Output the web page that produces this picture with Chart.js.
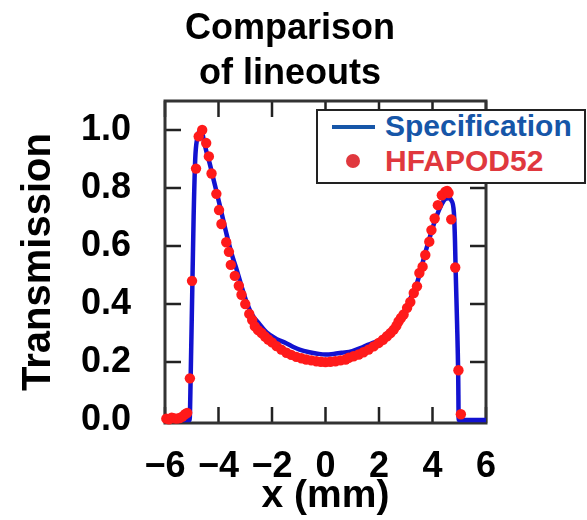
<!DOCTYPE html>
<html>
<head>
<meta charset="utf-8">
<script src="https://cdn.jsdelivr.net/npm/chart.js@4.4.1/dist/chart.umd.min.js"></script>
<style>
  html, body { margin: 0; padding: 0; background: #ffffff; overflow: hidden; }
  #wrap { position: relative; width: 587px; height: 520px; }
  #chart { position: absolute; left: 0; top: 0; }
  #legend {
    position: absolute; left: 316px; top: 109px; width: 266px; height: 71px;
    border: 2px solid #222222; background: #ffffff;
    font-family: "Liberation Sans", Arial, Helvetica, sans-serif; font-weight: bold; font-size: 30px;
  }
  .lg-row { position: absolute; left: 0; height: 34px; line-height: 34px; white-space: nowrap; }
  .lg-text { position: absolute; left: 67px; top: 0; }
  .lg-line { position: absolute; left: 14px; top: 16px; width: 43px; height: 4px; }
  .lg-dot { position: absolute; left: 28px; top: 10px; width: 14px; height: 14px; border-radius: 50%; }
</style>
</head>
<body>
<div id="wrap">
  <canvas id="chart" width="587" height="520"></canvas>
  <div id="legend"></div>
</div>
<script>
// ================================================================
//  DATA
// ================================================================
const titleLines = ['Comparison', 'of lineouts'];
const xTitle = 'x (mm)';
const yTitle = 'Transmission';
const xTicks = [-6, -4, -2, 0, 2, 4, 6];
const yTicks = [0, 0.2, 0.4, 0.6, 0.8, 1.0];

// Specification (solid blue line)
const specX = [-6, -5.08, -5.04, -4.98, -4.93, -4.87, -4.8, -4.72, -4.64, -4.55, -4.45, -4.33, -4.2, -4.08,
  -3.9, -3.71, -3.5, -3.34, -3.15, -2.96, -2.75, -2.46, -2.2, -1.84, -1.47, -1.2, -0.97, -0.6, -0.3,
  0, 0.3, 0.6, 1.0, 1.4, 1.73, 2.0, 2.36, 2.62, 3.0, 3.2, 3.42, 3.74, 4.12, 4.35, 4.49, 4.6, 4.7,
  4.8, 4.84, 4.87, 4.92, 4.96, 4.98, 6];
const specY = [0, 0, 0.15, 0.45, 0.7, 0.9, 0.97, 0.995, 1.0, 0.965, 0.925, 0.885, 0.835, 0.79,
  0.72, 0.645, 0.57, 0.525, 0.465, 0.41, 0.365, 0.33, 0.302, 0.28, 0.265, 0.252, 0.243, 0.234, 0.229,
  0.226, 0.228, 0.232, 0.238, 0.252, 0.265, 0.275, 0.305, 0.325, 0.385, 0.425, 0.472, 0.58, 0.695, 0.745, 0.763, 0.765, 0.758,
  0.715, 0.62, 0.5, 0.33, 0.16, 0, 0];

// HFAPOD52 (red dots)
const measX = [-5.95, -5.85, -5.75, -5.65, -5.55, -5.45, -5.35, -5.25, -5.17,
  -5.07, -4.99, -4.84, -4.74, -4.61, -4.46, -4.36, -4.26, -4.08, -3.98, -3.89, -3.71, -3.61, -3.54,
  -3.39, -3.24, -3.14, -3.0, -2.85, -2.74, -2.64, -2.52, -2.39, -2.26, -2.14, -2.0, -1.83, -1.65,
  -1.46, -1.28, -1.09, -0.9, -0.72, -0.53, -0.34, -0.17, 0.0, 0.18, 0.37, 0.56, 0.75, 0.87, 1.05,
  1.24, 1.42, 1.61, 1.8, 1.99, 2.15, 2.3, 2.43, 2.55, 2.65, 2.73, 2.82, 2.92, 3.05, 3.17, 3.3, 3.42,
  3.51, 3.63, 3.73, 3.88, 3.96, 4.08, 4.2, 4.35, 4.48, 4.55, 4.6, 4.7, 4.85, 4.97, 5.06];
const measY = [0.005, 0.003, 0.008, 0.006, 0.005, 0.007, 0.012, 0.02, 0.025,
  0.144, 0.48, 0.867, 0.978, 1.0, 0.955, 0.909, 0.85, 0.78, 0.724, 0.676, 0.613, 0.58, 0.535,
  0.497, 0.463, 0.432, 0.4, 0.366, 0.345, 0.323, 0.31, 0.3, 0.288, 0.278, 0.268, 0.255, 0.243,
  0.232, 0.225, 0.218, 0.213, 0.209, 0.206, 0.203, 0.201, 0.2, 0.201, 0.203, 0.206, 0.209, 0.215, 0.22,
  0.226, 0.234, 0.243, 0.254, 0.266, 0.277, 0.289, 0.3, 0.312, 0.325, 0.34, 0.352, 0.364, 0.387, 0.407, 0.438, 0.461,
  0.507, 0.529, 0.569, 0.615, 0.655, 0.695, 0.741, 0.775, 0.787, 0.79, 0.783, 0.692, 0.526, 0.172, 0.02];

const seriesNames = ['Specification', 'HFAPOD52'];
const lineColor = '#1212d0';
const dotColor = '#ff1a1a';
const legendTextColors = ['#1656a8', '#e0383e'];

// ================================================================
//  CHART
// ================================================================
const FONT = '"Liberation Sans", Arial, Helvetica, sans-serif';
const bigFont = { family: FONT, size: 36, weight: 'bold' };
const fmtTick = v => (v < 0 ? '\u2212' + Math.abs(v) : String(v));

// box frame + inward ticks on all four sides
const framePlugin = {
  id: 'frame',
  beforeDatasetsDraw(chart) {
    const { ctx, chartArea: a, scales: { x, y } } = chart;
    const len = 16;
    ctx.save();
    ctx.strokeStyle = '#222222';
    ctx.lineWidth = 2.5;
    ctx.beginPath();
    xTicks.forEach(v => {
      const px = x.getPixelForValue(v);
      ctx.moveTo(px, a.bottom); ctx.lineTo(px, a.bottom - len);
      ctx.moveTo(px, a.top); ctx.lineTo(px, a.top + len);
    });
    yTicks.forEach(v => {
      const py = y.getPixelForValue(v);
      ctx.moveTo(a.left, py); ctx.lineTo(a.left + len, py);
      ctx.moveTo(a.right, py); ctx.lineTo(a.right - len, py);
    });
    ctx.stroke();
    ctx.strokeStyle = '#333333';
    ctx.lineWidth = 3;
    ctx.strokeRect(a.left, a.top, a.right - a.left, a.bottom - a.top);
    ctx.restore();
  }
};

const chart = new Chart(document.getElementById('chart').getContext('2d'), {
  type: 'scatter',
  data: {
    datasets: [{
      label: seriesNames[1],
      data: measX.map((v, i) => ({ x: v, y: measY[i] })),
      showLine: false,
      pointRadius: 5.2, pointBorderWidth: 0,
      backgroundColor: dotColor, borderColor: dotColor,
      order: 0, clip: false
    }, {
      label: seriesNames[0],
      data: specX.map((v, i) => ({ x: v, y: specY[i] })),
      showLine: true, pointRadius: 0,
      borderColor: lineColor, borderWidth: 4.5,
      cubicInterpolationMode: 'monotone',
      order: 1
    }]
  },
  options: {
    responsive: false, animation: false,
    layout: { padding: { left: 0, right: 7, top: 0, bottom: 0 } },
    plugins: {
      legend: { display: false },
      tooltip: { enabled: false },
      title: {
        display: true, text: titleLines, color: '#000000',
        font: { family: FONT, size: 36, weight: 'bold', lineHeight: 1.25 },
        padding: { top: 7, bottom: 4 }
      }
    },
    scales: {
      x: {
        type: 'linear', position: 'bottom', min: -6, max: 6,
        afterBuildTicks: s => { s.ticks = xTicks.map(v => ({ value: v })); },
        ticks: { color: '#000000', font: bigFont, padding: 14, maxRotation: 0, autoSkip: false, callback: fmtTick },
        grid: { display: false }, border: { display: false },
        title: { display: true, text: xTitle, color: '#000000', font: { family: FONT, size: 39, weight: 'bold' }, padding: 0 },
        afterFit: s => { s.height = 97; }
      },
      y: {
        type: 'linear', position: 'left', min: -0.01, max: 1.1,
        afterBuildTicks: s => { s.ticks = yTicks.map(v => ({ value: v })); },
        ticks: { color: '#000000', font: bigFont, padding: 26, autoSkip: false, callback: v => v.toFixed(1) },
        grid: { display: false }, border: { display: false },
        title: { display: true, text: yTitle, color: '#000000', font: { family: FONT, size: 40, weight: 'bold' }, padding: { top: 15, bottom: 0 } },
        afterFit: s => { s.width = 165; }
      },
      y2: {
        type: 'linear', position: 'right', display: true,
        ticks: { display: false }, grid: { display: false }, border: { display: false },
        afterFit: s => { s.width = 94; }
      }
    }
  },
  plugins: [framePlugin]
});

// legend drawn as html over the plot
document.getElementById('legend').innerHTML =
  `<div class="lg-row" style="top:-2px">
     <span class="lg-line" style="background:${legendTextColors[0]}"></span>
     <span class="lg-text" style="color:${legendTextColors[0]}">${seriesNames[0]}</span>
   </div>
   <div class="lg-row" style="top:33px">
     <span class="lg-dot" style="background:${legendTextColors[1]}"></span>
     <span class="lg-text" style="color:${legendTextColors[1]}">${seriesNames[1]}</span>
   </div>`;
</script>
</body>
</html>
